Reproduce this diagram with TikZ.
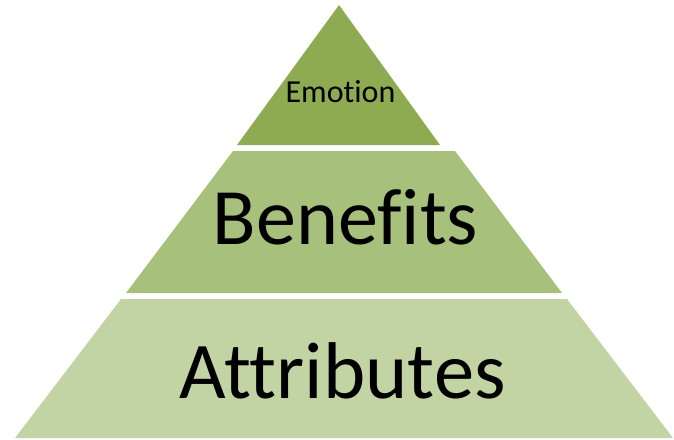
\documentclass[tikz,border=0pt]{standalone}
\usepackage{fontspec}
\setmainfont[Ligatures={NoCommon,NoRequired,NoContextual}]{Carlito}
\definecolor{tierA}{HTML}{8EAB51}
\definecolor{tierB}{HTML}{A7C07B}
\definecolor{tierC}{HTML}{C2D3A4}
\begin{document}
\begin{tikzpicture}[x=1pt,y=-1pt,
  tier/.style={draw=none},
  lbl/.style={anchor=base,inner sep=0pt,text=black}]
\useasboundingbox (0,0) rectangle (674,439);
\fill[tierA] (339,5) -- (440,145) -- (237,145) -- cycle;
\fill[tierB] (233,151) -- (455,151) -- (562,293) -- (126,293) -- cycle;
\fill[tierC] (121,299) -- (567,299) -- (673,438) -- (15,438) -- cycle;
\node[lbl,font=\fontsize{32}{34}\selectfont] (emo) at (340.5,102) {Emotion};
\node[lbl,font=\fontsize{80}{84}\selectfont] (ben) at (345.5,244) {Benefits};
\node[lbl,font=\fontsize{80.5}{84}\selectfont] (att) at (342.5,398) {Attributes};
\end{tikzpicture}
\end{document}
